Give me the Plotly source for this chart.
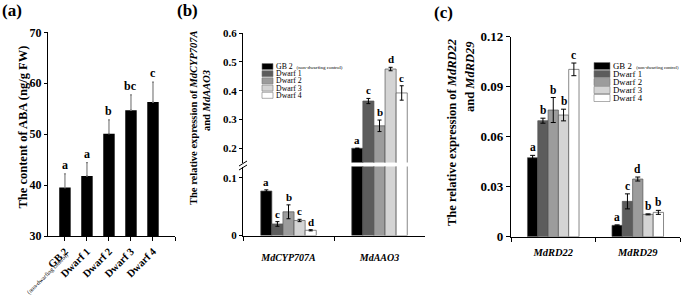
import plotly.graph_objects as go

W, H = 688, 295
def px(p): return p / W
def py(p): return 1 - p / H

SERIF = "Liberation Serif"

# ---------------- data ----------------
groups = ["GB 2", "Dwarf 1", "Dwarf 2", "Dwarf 3", "Dwarf 4"]
colors = ["#000000", "#5c5c5c", "#9c9c9c", "#d4d4d4", "#ffffff"]

# panel (a)
aba = [39.5, 41.8, 50.1, 54.7, 56.3]
aba_err = [2.7, 2.6, 2.7, 3.0, 3.9]
aba_letters = ["a", "a", "b", "bc", "c"]
aba_ticks = ["GB 2", "Dwarf 1", "Dwarf 2", "Dwarf 3", "Dwarf 4", ""]
aba_note = "(non-dwarfing control)"

# panel (b)
genes_b = ["MdCYP707A", "MdAAO3"]
b_vals = [[0.077, 0.200], [0.020, 0.364], [0.041, 0.278], [0.026, 0.475], [0.009, 0.392]]
b_err = [[0.002, 0.0], [0.004, 0.009], [0.012, 0.020], [0.002, 0.006], [0.001, 0.025]]
b_letters = [["a", "a"], ["c", "c"], ["b", "b"], ["c", "d"], ["d", "c"]]

# panel (c)
genes_c = ["MdRD22", "MdRD29"]
c_vals = [[0.0474, 0.0068], [0.0696, 0.0212], [0.0760, 0.0346], [0.0730, 0.0134], [0.1004, 0.0146]]
c_err = [[0.0014, 0.0003], [0.0015, 0.0045], [0.0075, 0.0012], [0.0035, 0.0003], [0.0038, 0.0012]]
c_letters = [["a", "a"], ["b", "c"], ["b", "d"], ["b", "b"], ["c", "b"]]

BARGAP = 0.39
BW = (1 - BARGAP) / len(groups)

fig = go.Figure()
ann = []
shapes = []

def bfont(size):
    return dict(family=SERIF, size=size, color="black", weight="bold")

# ---------------- panel (a) ----------------
fig.add_trace(go.Bar(
    x=list(range(len(groups))), y=aba, width=0.52, xaxis="x", yaxis="y",
    marker=dict(color="#000000", line=dict(width=0)),
    error_y=dict(type="data", array=aba_err, arrayminus=[0] * len(aba),
                 symmetric=False, color="#808080", thickness=1.2, width=1),
    showlegend=False))
for i, (v, e, t) in enumerate(zip(aba, aba_err, aba_letters)):
    ann.append(dict(x=i, y=v + e, xref="x", yref="y", text=t,
                    showarrow=False, yanchor="bottom", yshift=0, font=bfont(12)))
ann.append(dict(x=px(47), y=py(274), xref="paper", yref="paper", text=aba_note,
                showarrow=False, textangle=-45, xanchor="center", yanchor="middle",
                borderpad=0, font=dict(family=SERIF, size=6, color="black")))

# ---------------- panel (b) ----------------
for i, g in enumerate(groups):
    vals = [b_vals[i][0], b_vals[i][1]]
    errs = [b_err[i][0], b_err[i][1]]
    for ya in ("y2", "y3"):
        fig.add_trace(go.Bar(
            x=genes_b, y=vals, xaxis="x2", yaxis=ya, name=g, showlegend=False,
            marker=dict(color=colors[i], line=dict(color="#555555", width=0.7)),
            error_y=dict(type="data", array=errs, color="black", thickness=1, width=2)))
    for j in range(2):
        ann.append(dict(x=j + (i - 2) * BW, y=b_vals[i][j] + b_err[i][j],
                        xref="x2", yref="y2" if j == 0 else "y3",
                        text=b_letters[i][j], showarrow=False,
                        yanchor="bottom", yshift=0, font=bfont(11)))

# ---------------- panel (c) ----------------
for i, g in enumerate(groups):
    fig.add_trace(go.Bar(
        x=genes_c, y=c_vals[i], xaxis="x3", yaxis="y4", name=g, showlegend=False,
        marker=dict(color=colors[i], line=dict(color="#555555", width=0.7)),
        error_y=dict(type="data", array=c_err[i], color="black", thickness=1, width=2.5)))
    for j in range(2):
        ann.append(dict(x=j + (i - 2) * BW, y=c_vals[i][j] + c_err[i][j],
                        xref="x3", yref="y4",
                        text=c_letters[i][j], showarrow=False,
                        yanchor="bottom", yshift=0, font=bfont(11.5)))

# ---------------- custom legends ----------------
def legend(x0, y0, sw, sh, step, fs, sfs):
    for i, g in enumerate(groups):
        top = y0 + i * step
        shapes.append(dict(type="rect", xref="paper", yref="paper",
                           x0=px(x0), x1=px(x0 + sw), y0=py(top + sh), y1=py(top),
                           fillcolor=colors[i], line=dict(color="#777777", width=0.6)))
        label = g
        if i == 0:
            label = g + "&nbsp;&nbsp;<span style='font-size:%spx'>(non-dwarfing control)</span>" % sfs
        ann.append(dict(x=px(x0 + sw + 1.5), y=py(top + sh / 2), xref="paper", yref="paper",
                        text=label, showarrow=False, xanchor="left", yanchor="middle",
                        borderpad=0,
                        font=dict(family=SERIF, size=fs, color="black")))

legend(262, 63.5, 11, 6, 7.2, 7.8, 5)
legend(594, 62.5, 16, 7, 8, 8.8, 4.6)

# ---------------- titles ----------------
def t(x, y, text, size, angle=-90):
    ann.append(dict(x=px(x), y=py(y), xref="paper", yref="paper", text=text,
                    showarrow=False, textangle=angle, xanchor="center", yanchor="middle",
                    font=bfont(size)))

t(22.5, 127, "The content of ABA (ng/g FW)", 12.5)
t(193, 118, "The relative expression of <i>MdCYP707A</i>", 10.5)
t(207, 101, "and <i>MdAAO3</i>", 10.5)
t(452, 132, "The relative expression of <i>MdRD22</i>", 12.5)
t(470, 77, "and <i>MdRD29</i>", 12.5)
t(12, 10, "(a)", 17, 0)
t(187, 11, "(b)", 17, 0)
t(443, 13, "(c)", 17, 0)

# axis break marks on panel (b)
for dy in (0, 4):
    shapes.append(dict(type="line", xref="paper", yref="paper",
                       x0=px(239), y0=py(166 + dy), x1=px(247), y1=py(161 + dy),
                       line=dict(color="black", width=1)))

axis_common = dict(showline=True, linecolor="black", linewidth=1.3, ticks="outside",
                   tickcolor="black", showgrid=False, zeroline=False, automargin=False)

fig.update_layout(
    width=W, height=H, autosize=False,
    margin=dict(l=0, r=0, t=0, b=0, pad=0, autoexpand=False),
    paper_bgcolor="white", plot_bgcolor="white",
    barmode="group", bargap=BARGAP, bargroupgap=0,
    showlegend=False,
    annotations=ann, shapes=shapes,
    xaxis=dict(domain=[px(48), px(175)], anchor="y", range=[-0.77, 5],
               tickvals=list(range(6)), ticktext=aba_ticks, tickangle=-45, ticklen=4,
               tickfont=bfont(10.5), **axis_common),
    yaxis=dict(domain=[py(236), py(32.3)], anchor="x", range=[30, 70],
               tickvals=[30, 40, 50, 60, 70], ticklen=3,
               tickfont=bfont(12), **axis_common),
    xaxis2=dict(domain=[px(243), px(425)], anchor="y2", type="category",
                range=[-0.5, 1.5], tickson="boundaries", ticklen=4, ticklabelstandoff=12,
                tickfont=bfont(10),
                tickvals=genes_b, ticktext=["<i>%s</i>" % g for g in genes_b],
                **axis_common),
    yaxis2=dict(domain=[py(235.5), py(166.5)], anchor="x2", range=[0, 0.1194],
                tickvals=[0, 0.1], ticktext=["0", "0.1"], ticklen=3,
                tickfont=bfont(11), **axis_common),
    yaxis3=dict(domain=[py(162.5), py(33)], anchor="x2", range=[0.1507, 0.6],
                tickvals=[0.2, 0.3, 0.4, 0.5, 0.6],
                ticktext=["0.2", "0.3", "0.4", "0.5", "0.6"],
                ticklen=3, tickfont=bfont(11), **axis_common),
    xaxis3=dict(domain=[px(511), px(680)], anchor="y4", type="category",
                range=[-0.5, 1.5], tickson="boundaries", ticklen=4, ticklabelstandoff=6,
                tickfont=bfont(10.5),
                tickvals=genes_c, ticktext=["<i>%s</i>" % g for g in genes_c],
                **axis_common),
    yaxis4=dict(domain=[py(236.7), py(36.7)], anchor="x3", range=[0, 0.12],
                tickvals=[0, 0.03, 0.06, 0.09, 0.12],
                ticktext=["0", "0.03", "0.06", "0.09", "0.12"],
                ticklen=4, tickfont=bfont(13), **axis_common),
)

fig.write_html("out.html", config={"displayModeBar": False},
               post_script="document.body.style.margin='0px';"
                           "document.body.style.overflow='hidden';")
